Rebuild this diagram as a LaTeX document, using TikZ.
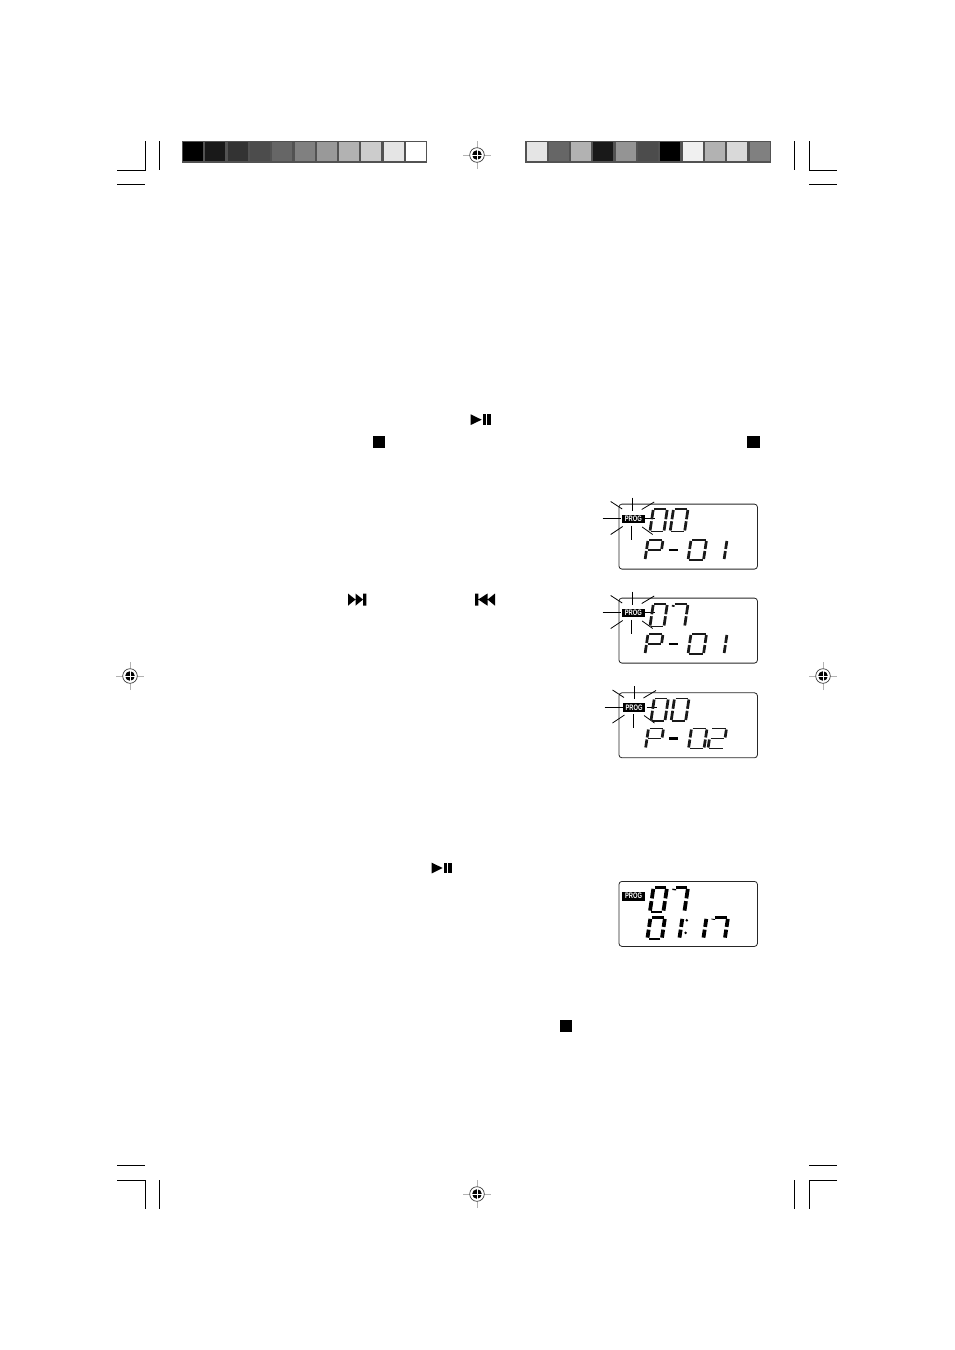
\documentclass[tikz,border=0pt]{standalone}
\usepackage{fontspec}
\setsansfont{Liberation Sans}
\usetikzlibrary{positioning}

\newcommand{\dzero}{tl/tr/segh,tr/mr/segv,mr/br/segv,br/bl/segh,bl/ml/segv,ml/tl/segv}
\newcommand{\done}{tr/mr/segv,mr/br/segv}
\newcommand{\dtwo}{tl/tr/segh,tr/mr/segv,ml/mr/segh,ml/bl/segv,bl/br/segh}
\newcommand{\dseven}{tl/tr/segh,tr/mr/segv,mr/br/segv,tl/sl/segv}
\newcommand{\dpee}{tl/tr/segh,tr/mr/segv,ml/mr/segh,ml/tl/segv,bl/ml/segv}
\newcommand{\ddash}{ml/mr/segh}
\newcommand{\progtext}{\scalebox{0.72}[1]{PROG}}

% one slanted seven-segment digit: [style]{x}{y}{w}{h}{segments}
\newcommand{\lcddigit}[6][lcdseg]{%
  \begin{scope}[shift={(#2,#3)}, xslant=0.15]
    \coordinate (tl) at (0,0);
    \coordinate (tr) at (#4,0);
    \coordinate (sl) at (0,{#5/6});
    \coordinate (ml) at (0,{#5/2});
    \coordinate (mr) at (#4,{#5/2});
    \coordinate (bl) at (0,#5);
    \coordinate (br) at (#4,#5);
    \foreach \p/\q/\k in #6 {\draw[#1,\k] (\p) -- (\q);}
  \end{scope}}

% registration target
\newcommand{\regmark}[3]{%
  \coordinate (#1) at (#2,#3);
  \draw[regarm] ([xshift=-14]#1) -- ([xshift=14]#1);
  \draw[regarm] ([yshift=-14]#1) -- ([yshift=14]#1);
  \draw[black!75, line width=0.7, fill=white] (#1) circle (7.3);
  \fill[black] (#1) circle (4.8);
  \draw[white, line width=1] ([xshift=-5]#1) -- ([xshift=5]#1);
  \draw[white, line width=1] ([yshift=-5]#1) -- ([yshift=5]#1);}

% eight flash lines round a PROG tag
\newcommand{\flash}[2]{%
  \begin{scope}[shift={(#1,#2)}]
    \draw[ray] (-22,-17) -- (-10.5,-9.5);
    \draw[ray] (21.5,-16.5) -- (9,-9);
    \draw[ray] (-30,0) -- (-12,0);
    \draw[ray] (12,0) -- (22,0);
    \draw[ray] (0,-21) -- (0,-8);
    \draw[ray] (-1,7) -- (-1,21);
    \draw[ray] (-22,16) -- (-10,8);
    \draw[ray] (9.5,8.5) -- (20,16);
  \end{scope}}

\begin{document}
\begin{tikzpicture}[
    x=1pt, y=-1pt,
    barcell/.style={minimum width=20pt, minimum height=19.4pt, inner sep=0pt, outer sep=0pt},
    barback/.style={fill=black!68, minimum width=245.5pt, minimum height=21.8pt, inner sep=0pt, outer sep=0pt},
    lcdbox/.style={draw=black!85, line width=0.8pt, rounded corners=3pt, minimum width=138.5pt, minimum height=65pt, inner sep=0pt, outer sep=0pt},
    progtag/.style={fill=black, text=white, inner sep=0pt, outer sep=0pt, minimum width=23pt, minimum height=8.5pt, font=\fontsize{8}{8}\selectfont\sffamily\bfseries},
    lcdseg/.style={line width=2.1pt, black!90, shorten >=1pt, shorten <=1pt},
    lcdbold/.style={line width=2.9pt, black, shorten >=1.4pt, shorten <=1.4pt},
    lcddash/.style={line width=3pt, black},
    segv/.style={line width=1.3*\pgflinewidth},
    segh/.style={line width=0.8*\pgflinewidth},
    ray/.style={line width=0.8pt, black},
    crop/.style={line width=0.9pt, black},
    regarm/.style={line width=1pt, black!30},
    icon/.style={fill=black, draw=none}
]
\useasboundingbox (0,0) rectangle (954,1350);

% colour bars
\node[barback] (barleft) at (304.7,151.9) {};
\foreach \shade [count=\i from 0] in {100,90,80,70,60,50,40,30,20,10,0}
  \node[barcell, fill=black!\shade] (lcell\i) at ({193.0+22.3*\i},151.7) {};
\node[barback] (barright) at (648.2,151.9) {};
\foreach \shade [count=\i from 0] in {10,60,30,90,42,70,100,6,30,15,50}
  \node[barcell, fill=black!\shade] (rcell\i) at ({536.5+22.3*\i},151.7) {};

% crop marks
\draw[crop] (117,170.3) -- (145.3,170.3) -- (145.3,141);
\draw[crop] (159.5,141) -- (159.5,170);
\draw[crop] (117,184) -- (145,184);
\draw[crop] (794.5,141) -- (794.5,170);
\draw[crop] (809.5,141) -- (809.5,170.3) -- (837,170.3);
\draw[crop] (809,184) -- (837,184);
\draw[crop] (117,1165.3) -- (145,1165.3);
\draw[crop] (117,1180) -- (145.3,1180) -- (145.3,1209);
\draw[crop] (159.5,1180) -- (159.5,1209);
\draw[crop] (809,1165.3) -- (837,1165.3);
\draw[crop] (837,1180) -- (809.5,1180) -- (809.5,1209);
\draw[crop] (794.5,1180) -- (794.5,1209);

\regmark{regtop}{477}{155}
\regmark{regbottom}{477}{1194}
\regmark{regleft}{130}{676}
\regmark{regright}{823}{676}

% button icons
\fill[icon] (470.7,414.3) -- (481.7,419.7) -- (470.7,425) -- cycle;
\fill[icon] (482.7,414.3) rectangle (485.9,425);
\fill[icon] (487.3,414.3) rectangle (491,425);
\fill[icon] (431.7,862.7) -- (442.7,868) -- (431.7,873.4) -- cycle;
\fill[icon] (443.7,862.7) rectangle (446.9,873.4);
\fill[icon] (448.3,862.7) rectangle (452,873.4);
\fill[icon] (373.3,435.8) rectangle (385.3,448.3);
\fill[icon] (747.3,435.8) rectangle (759.5,448.3);
\fill[icon] (560,1020) rectangle (572,1032);
\fill[icon] (348,593.5) -- (355.5,599.5) -- (355.5,593.5) -- (363,599.5) -- (363,593.5) -- (366.3,593.5) -- (366.3,605.7) -- (363,605.7) -- (363,599.5) -- (355.5,605.7) -- (355.5,599.5) -- (348,605.7) -- cycle;
\fill[icon] (495,593.5) -- (487.5,599.5) -- (487.5,593.5) -- (478.3,599.5) -- (478.3,593.5) -- (475,593.5) -- (475,605.7) -- (478.3,605.7) -- (478.3,599.5) -- (487.5,605.7) -- (487.5,599.5) -- (495,605.7) -- cycle;

% displays
\node[lcdbox] (lcdone) at (688.2,536.6) {};
\node[lcdbox] (lcdtwo) at (688.2,630.6) {};
\node[lcdbox] (lcdthree) at (688.2,725.3) {};
\node[lcdbox] (lcdfour) at (688.2,913.9) {};

\flash{632.7}{518.5}
\flash{632.7}{612.5}
\flash{634.5}{707}

\node[progtag] (progone) at (633.3,518.8) {\progtext};
\node[progtag] (progtwo) at (633.3,613) {\progtext};
\node[progtag, minimum width=22pt] (progthree) at (634,707.5) {\progtext};
\node[progtag, minimum height=9pt] (progfour) at (633.5,896.2) {\progtext};

% lcdone
\lcddigit{653.3}{509}{14}{22.5}{\dzero}
\lcddigit{673.5}{509}{14.5}{22.5}{\dzero}
\lcddigit{648}{540}{15}{20}{\dpee}
\lcddigit[lcddash]{670}{540}{9}{20}{\ddash}
\lcddigit{691}{540}{15.5}{20}{\dzero}
\lcddigit{712}{540}{15}{20}{\done}
% lcdtwo
\lcddigit{653.3}{604}{14}{22.5}{\dzero}
\lcddigit{673.5}{604}{14.5}{22.5}{\dseven}
\lcddigit{648}{634}{15}{20}{\dpee}
\lcddigit[lcddash]{670}{634}{9}{20}{\ddash}
\lcddigit{691}{634}{15.5}{20}{\dzero}
\lcddigit{712}{634}{15}{20}{\done}
% lcdthree
\lcddigit{654.3}{698.5}{14}{22.5}{\dzero}
\lcddigit{674.5}{698.5}{14.5}{22.5}{\dzero}
\lcddigit{648.5}{728.5}{15}{20}{\dpee}
\lcddigit[lcddash]{670.5}{728.5}{9}{20}{\ddash}
\lcddigit{691.5}{728.5}{15.5}{20}{\dzero}
\lcddigit{711}{728.5}{15.5}{20}{\dtwo}
% lcdfour
\lcddigit[lcdbold]{653.5}{887.5}{13.5}{24.5}{\dzero}
\lcddigit[lcdbold]{674.5}{887.5}{13.5}{24.5}{\dseven}
\lcddigit[lcdbold]{650.5}{917.5}{14.5}{21.5}{\dzero}
\lcddigit[lcdbold]{668}{917.5}{14.5}{21.5}{\done}
\lcddigit[lcdbold]{692}{917.5}{14.5}{21.5}{\done}
\lcddigit[lcdbold]{713.5}{917.5}{14.5}{21.5}{\dseven}
\fill (686.8,920.3) circle (1.4);
\fill (685.6,932.8) circle (1.4);
\end{tikzpicture}
\end{document}
